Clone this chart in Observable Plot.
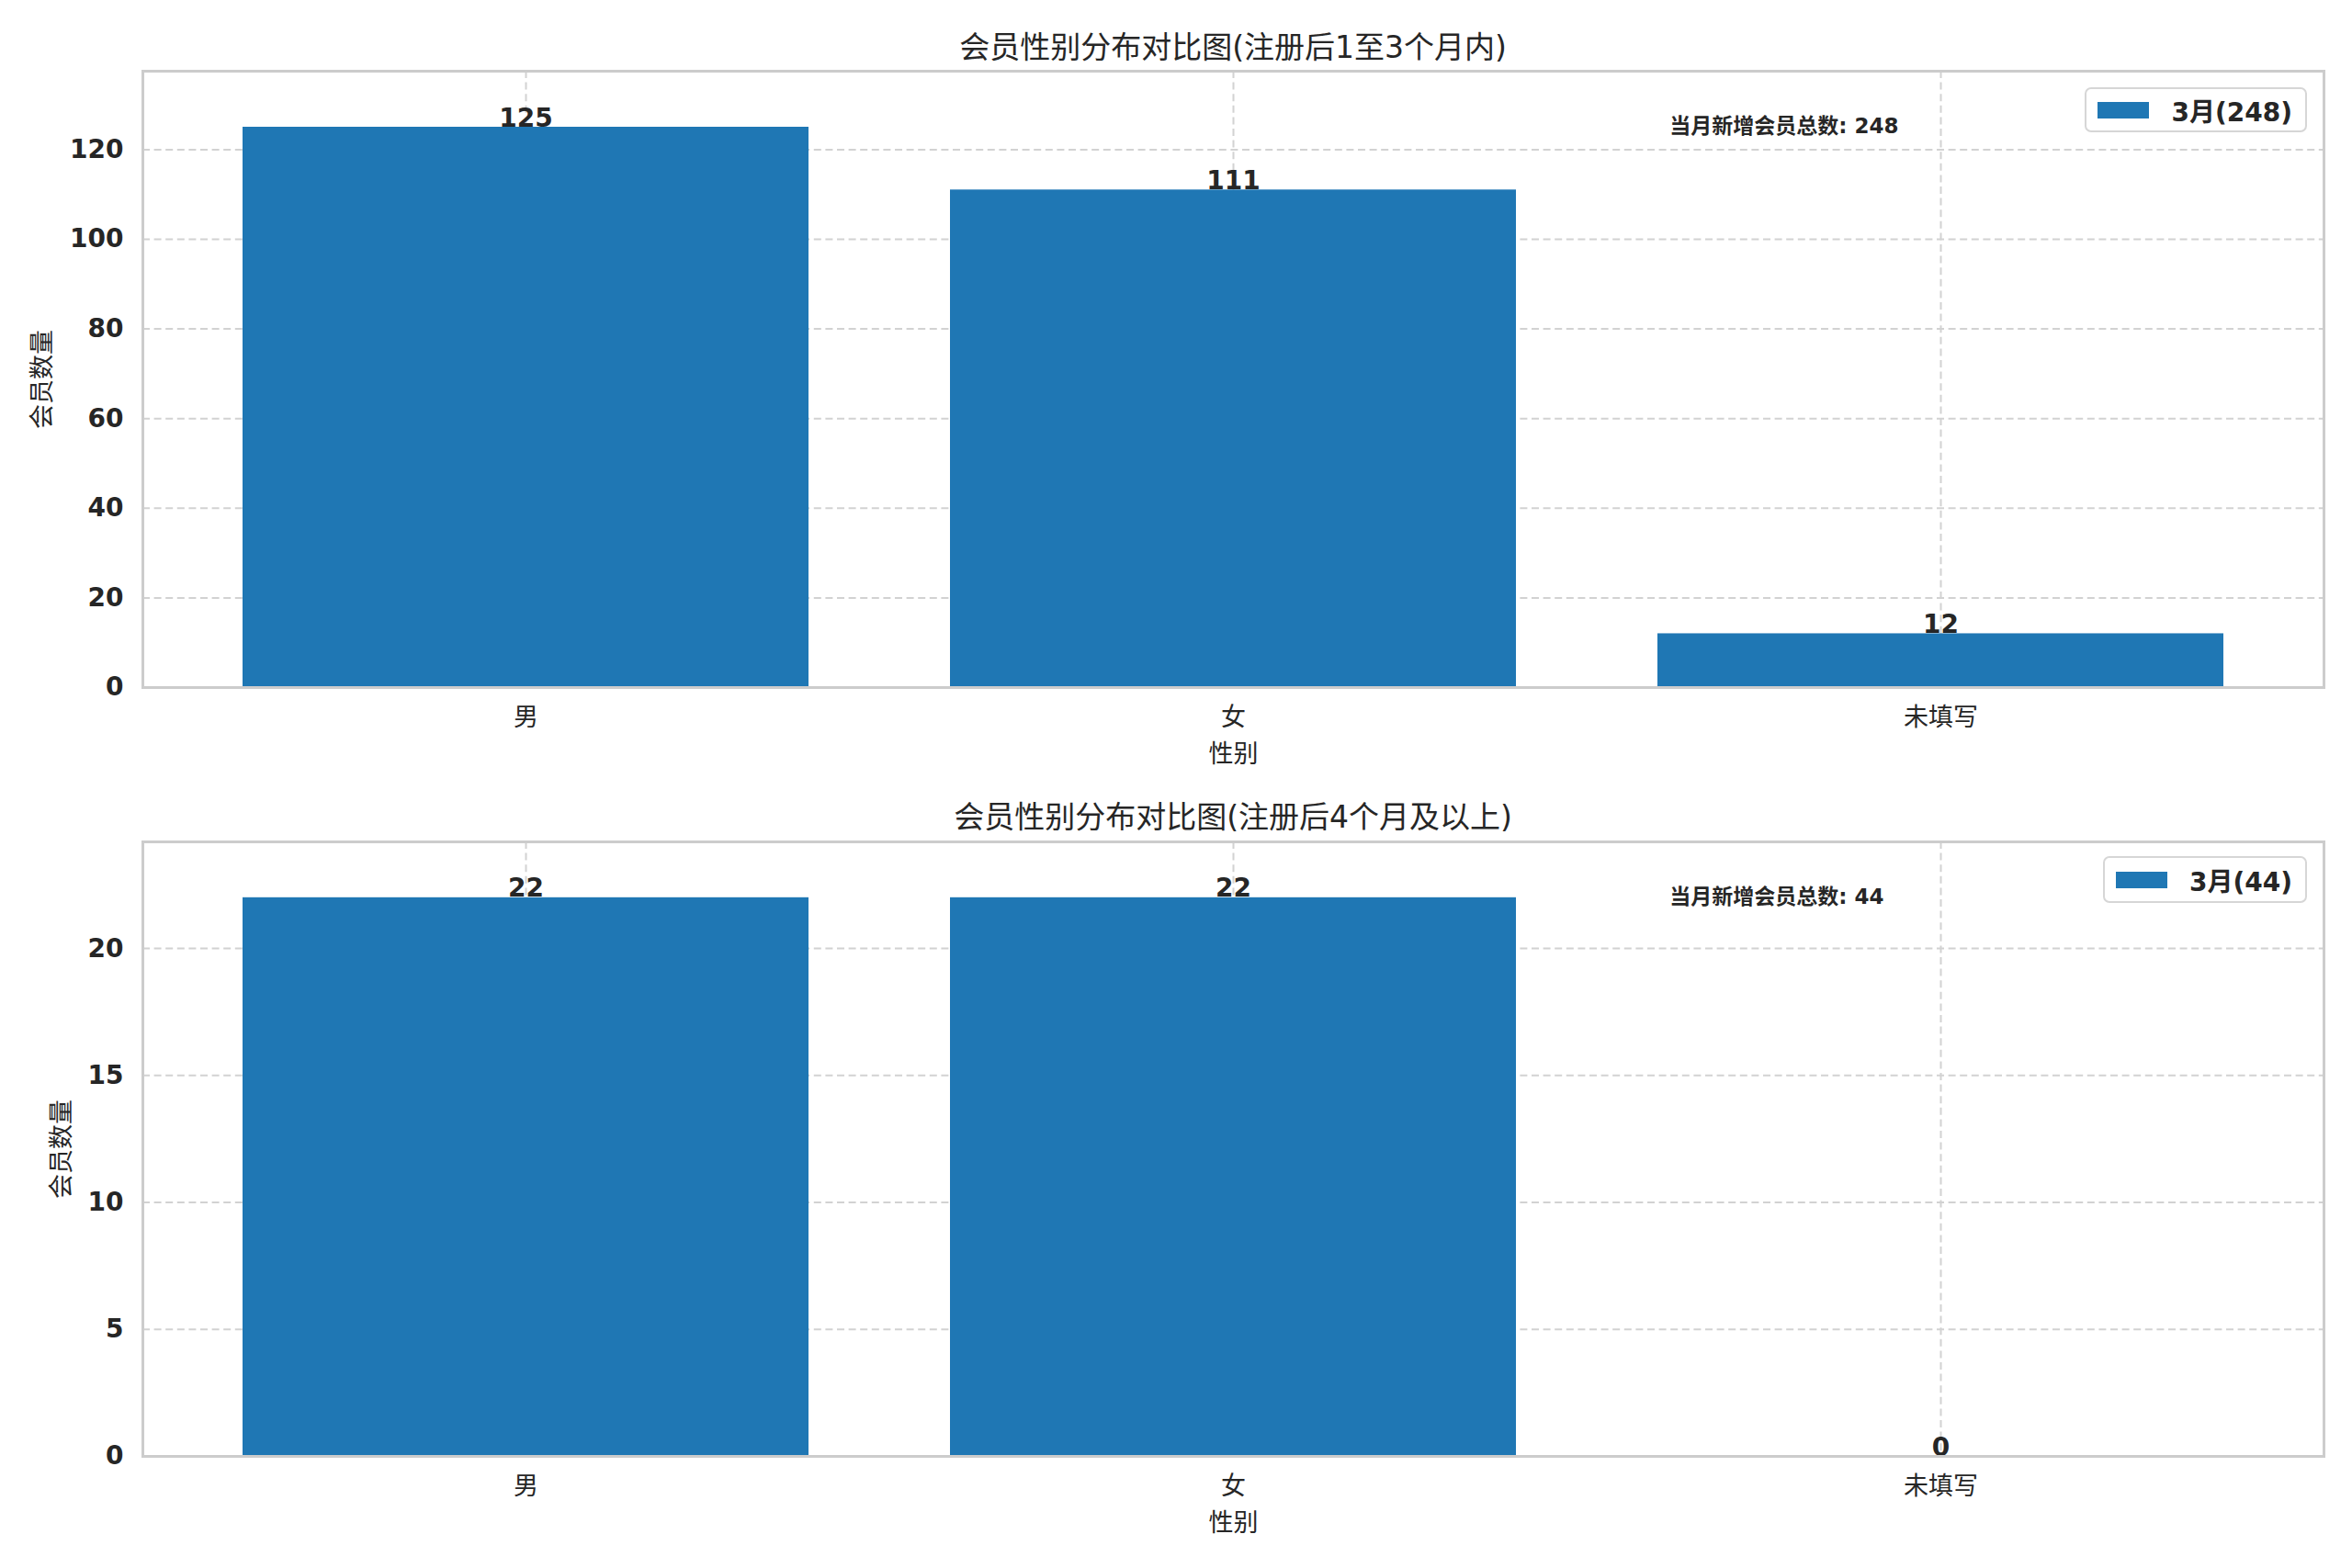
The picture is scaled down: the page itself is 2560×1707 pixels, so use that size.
<!DOCTYPE html>
<html><head><meta charset="utf-8">
<script src="https://cdn.jsdelivr.net/npm/d3@7"></script>
<script src="https://cdn.jsdelivr.net/npm/@observablehq/plot@0.6"></script>
<style>
html,body{margin:0;padding:0;background:#fff;overflow:hidden}
#chart{position:relative;width:2560px;height:1707px;font-family:"DejaVu Sans","Noto Sans CJK SC",sans-serif;color:#262626}
.panel{position:absolute;left:0;width:2560px}
.title{position:absolute;font-size:33px;transform:translate(-50%,-50%);white-space:nowrap;color:#262626}
.legend{position:absolute;border:2px solid #d6d6d6;border-radius:7px;background:rgba(255,255,255,0.85);display:flex;align-items:center;box-sizing:border-box;font-weight:bold;font-size:28px;padding:0 14px 0 12px;white-space:nowrap}
.swatch{background:#1f77b4;width:56px;height:18px;margin-right:24px}
</style></head><body><div id="chart"></div>
<script>
const categories = ["男", "女", "未填写"];
const panelTitles = ["会员性别分布对比图(注册后1至3个月内)", "会员性别分布对比图(注册后4个月及以上)"];
const earlyCounts = [125, 111, 12];
const lateCounts = [22, 22, 0];
const earlyTicks = [0, 20, 40, 60, 80, 100, 120];
const lateTicks = [0, 5, 10, 15, 20];
const legendLabels = ["3月(248)", "3月(44)"];
const noteLabels = ["当月新增会员总数: 248", "当月新增会员总数: 44"];
const xLabel = "性别";
const yLabel = "会员数量";

const FONT = '"DejaVu Sans","Noto Sans CJK SC",sans-serif';
const chart = document.getElementById("chart");
const W = 2560, ML = 155, MR = 31;
const innerW = W - ML - MR;

function makePanel(counts, ticks, note, cfg) {
  const data = categories.map((c, i) => ({category: c, count: counts[i]}));
  const ymax = d3.max(counts) * 1.1;
  return Plot.plot({
    width: W, height: cfg.height,
    marginLeft: ML, marginRight: MR, marginTop: cfg.mt, marginBottom: cfg.mb,
    style: {fontFamily: FONT, fontSize: "28px", color: "#262626", background: "white", overflow: "visible"},
    x: {domain: categories, paddingInner: 0.2, paddingOuter: 0.14, label: null},
    y: {domain: [0, ymax], label: null},
    marks: [
      Plot.gridX({stroke: "#d2d2d2", strokeOpacity: 1, strokeWidth: 2, strokeDasharray: "8,4.6"}),
      Plot.gridY(ticks, {stroke: "#d2d2d2", strokeOpacity: 1, strokeWidth: 2, strokeDasharray: "8,4.6"}),
      Plot.barY(data, {x: "category", y: "count", fill: "#1f77b4"}),
      Plot.text(data, {x: "category", y: "count", text: d => String(d.count), lineAnchor: "bottom", dy: -1, fontWeight: "bold", fontSize: 28, fill: "#262626"}),
      Plot.axisY(ticks, {tickSize: 0, tickPadding: 21, fontWeight: "bold", fontSize: 28, label: null, fill: "#262626"}),
      Plot.axisX({tickSize: 0, tickPadding: 22, fontSize: 27, label: null, fill: "#262626"}),
      Plot.text([note], {text: d => d, frameAnchor: "top-left", dx: 0.7 * innerW, dy: 60, lineAnchor: "middle", textAnchor: "start", fontWeight: "bold", fontSize: 23, fill: "#262626"}),
      Plot.text([xLabel], {text: d => d, frameAnchor: "bottom", dy: 73, lineAnchor: "middle", textAnchor: "middle", fontSize: 27, fill: "#262626"}),
      Plot.text([yLabel], {text: d => d, frameAnchor: "left", dx: cfg.ylDx, rotate: -90, lineAnchor: "middle", textAnchor: "middle", fontSize: 27, fill: "#262626"}),
      Plot.frame({stroke: "#cccccc", strokeWidth: 3})
    ]
  });
}

const configs = [
  {top: 0, height: 854, mt: 77, mb: 106, ylDx: -109, titleY: 49, legTop: 95, legH: 49},
  {top: 854, height: 853, mt: 62, mb: 122, ylDx: -88, titleY: 887, legTop: 932, legH: 51}
];
const seriesList = [[earlyCounts, earlyTicks], [lateCounts, lateTicks]];

configs.forEach((cfg, i) => {
  const div = document.createElement("div");
  div.className = "panel";
  div.style.top = cfg.top + "px";
  div.style.height = cfg.height + "px";
  div.appendChild(makePanel(seriesList[i][0], seriesList[i][1], noteLabels[i], cfg));
  chart.appendChild(div);

  const t = document.createElement("div");
  t.className = "title";
  t.textContent = panelTitles[i];
  t.style.left = (ML + innerW / 2) + "px";
  t.style.top = cfg.titleY + "px";
  chart.appendChild(t);

  const leg = document.createElement("div");
  leg.className = "legend";
  leg.style.right = (MR + 18) + "px";
  leg.style.top = cfg.legTop + "px";
  leg.style.height = cfg.legH + "px";
  const sw = document.createElement("div");
  sw.className = "swatch";
  const lt = document.createElement("span");
  lt.textContent = legendLabels[i];
  leg.appendChild(sw); leg.appendChild(lt);
  chart.appendChild(leg);
});
</script></body></html>
